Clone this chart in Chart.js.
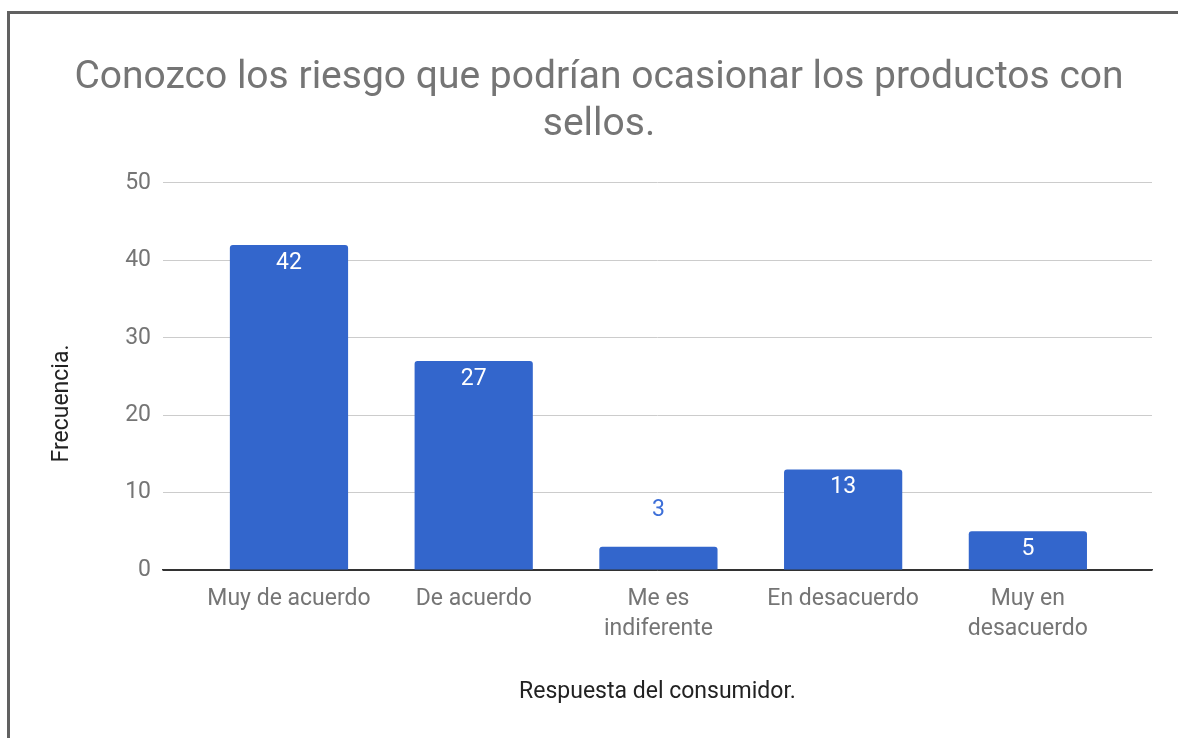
<!DOCTYPE html>
<html>
<head>
<meta charset="utf-8">
<script src="https://cdn.jsdelivr.net/npm/chart.js@4/dist/chart.umd.min.js"></script>
<style>
  html, body { margin: 0; padding: 0; background: #fff; }
  #wrap { position: relative; width: 1178px; height: 738px; overflow: hidden; }
  #frame { position: absolute; left: 7px; top: 11px; right: -10px; bottom: -10px;
           border-left: 3px solid #616161; border-top: 3px solid #616161; }
  canvas { position: absolute; left: 0; top: 0; }
</style>
</head>
<body>
<div id="wrap">
  <canvas id="chart" width="1178" height="738"></canvas>
  <div id="frame"></div>
</div>
<script>
// Survey answers and how many consumers chose each one
const categories = ['Muy de acuerdo', 'De acuerdo', ['Me es', 'indiferente'], 'En desacuerdo', ['Muy en', 'desacuerdo']];
const frequencies = [42, 27, 3, 13, 5];
const yTicks = [0, 10, 20, 30, 40, 50];

const titleLines = ['Conozco los riesgo que podrían ocasionar los productos con', 'sellos.'];
const xTitle = 'Respuesta del consumidor.';
const yTitle = 'Frecuencia.';

const BAR = '#3366cc';

// Value labels: inside the bar top in white, or above the bar in blue when it is too short
const valueLabels = {
  id: 'valueLabels',
  afterDatasetsDraw(chart) {
    const { ctx } = chart;
    const meta = chart.getDatasetMeta(0);
    ctx.save();
    ctx.font = '23px Roboto';
    ctx.textAlign = 'center';
    ctx.textBaseline = 'middle';
    meta.data.forEach((bar, i) => {
      const v = frequencies[i];
      const h = bar.base - bar.y;
      if (h > 30) {
        ctx.fillStyle = '#ffffff';
        ctx.fillText(String(v), bar.x, bar.y + 18);
      } else {
        ctx.fillStyle = '#3d6fd8';
        ctx.fillText(String(v), bar.x, bar.y - 37);
      }
    });
    ctx.restore();
  }
};

// Vertical axis title, set a little below the middle of the value axis
const yAxisTitle = {
  id: 'yAxisTitle',
  afterDraw(chart) {
    const { ctx, chartArea } = chart;
    ctx.save();
    ctx.translate(62, (chartArea.top + chartArea.bottom) / 2 + 27);
    ctx.rotate(-Math.PI / 2);
    ctx.font = '23px Roboto';
    ctx.fillStyle = '#222222';
    ctx.textAlign = 'center';
    ctx.textBaseline = 'middle';
    ctx.fillText(yTitle, 0, 0);
    ctx.restore();
  }
};

Chart.defaults.font.family = 'Roboto';

new Chart(document.getElementById('chart'), {
  type: 'bar',
  data: {
    labels: categories,
    datasets: [{
      data: frequencies.map((v, i) => ({ x: i, y: v })),
      backgroundColor: BAR,
      borderRadius: 3,
      borderSkipped: 'start',
      categoryPercentage: 1,
      barPercentage: 0.64
    }]
  },
  options: {
    responsive: false,
    animation: false,
    events: [],
    layout: { padding: { left: 46, right: 26, top: 0, bottom: 0 } },
    plugins: {
      legend: { display: false },
      tooltip: { enabled: false },
      title: {
        display: true,
        text: titleLines,
        color: '#757575',
        font: { size: 39, weight: 'normal', lineHeight: 1.205 },
        padding: { top: 55, bottom: 34 }
      }
    },
    scales: {
      x: {
        type: 'linear',
        offset: false,
        min: -0.682,
        max: 4.672,
        afterBuildTicks(scale) { scale.ticks = categories.map((c, i) => ({ value: i })); },
        grid: { display: false, drawTicks: false },
        border: { display: true, color: '#333333', width: 1.5 },
        ticks: {
          color: '#757575',
          font: { size: 23, lineHeight: 1.3 },
          padding: 14,
          maxRotation: 0,
          autoSkip: false,
          callback: (value) => categories[value]
        },
        title: {
          display: true,
          text: xTitle,
          color: '#222222',
          font: { size: 23 },
          padding: { top: 0, bottom: 32 }
        },
        afterFit(scale) { scale.height = 168; }
      },
      y: {
        min: 0,
        max: 50,
        afterBuildTicks(scale) { scale.ticks = yTicks.map(v => ({ value: v })); },
        grid: {
          color: ctx => ctx.tick && ctx.tick.value === 0 ? '#333333' : '#cccccc',
          lineWidth: 1,
          drawTicks: false
        },
        border: { display: false },
        ticks: {
          color: '#757575',
          font: { size: 23 },
          padding: 12
        },
        afterFit(scale) { scale.width = 117; }
      }
    }
  },
  plugins: [valueLabels, yAxisTitle]
});
</script>
</body>
</html>
